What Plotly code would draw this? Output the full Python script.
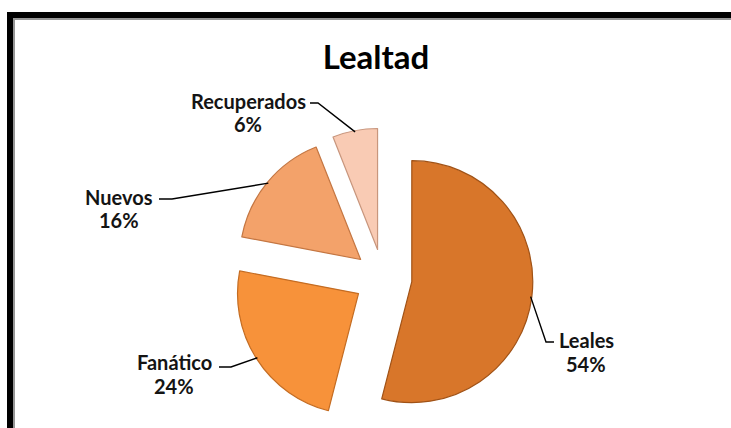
import math
import plotly.graph_objects as go

# data
labels = ["Leales", "Fanático", "Nuevos", "Recuperados"]
values = [54, 24, 16, 6]
colors = ["rgb(216,118,42)", "rgb(247,146,58)", "rgb(243,162,106)", "rgb(249,203,180)"]
edge_colors = ["rgb(160,82,22)", "rgb(196,108,34)", "rgb(196,118,66)", "rgb(200,150,125)"]

W, H = 731, 428
PULL = 0.24

# pie box in pixels (top edge, bottom edge = figure bottom)
box_top = 128
box_h = H - box_top
cx = 383
cy = box_top + box_h / 2
r = box_h / 2 / (1 + PULL)


def px(x):
    return x / W


def py(y):
    return 1 - y / H


fig = go.Figure()

fig.add_trace(go.Pie(
    labels=labels,
    values=values,
    sort=False,
    direction="clockwise",
    rotation=0,
    pull=[PULL] * len(values),
    marker=dict(colors=colors, line=dict(color=edge_colors, width=1.2)),
    textinfo="none",
    hoverinfo="label+percent",
    showlegend=False,
    domain=dict(x=[px(cx - box_h / 2), px(cx + box_h / 2)], y=[0, py(box_top)]),
))

# where each leader line touches its slice (outer arc, mid angle)
total = sum(values)
tips = []
acc = 0
for v in values:
    mid = (acc + v / 2) / total * 2 * math.pi
    acc += v
    dx, dy = math.sin(mid), -math.cos(mid)
    tips.append((cx + dx * (r * PULL + r * 0.99), cy + dy * (r * PULL + r * 0.99)))

# label text positions (name line, percent line) and leader line elbows (pixels)
label_pos = [(586, 340, 364), (174, 362, 386), (119, 197, 220), (248, 101, 124)]
elbows = [
    [(546, 342), (554, 342)],
    [(231, 367), (219, 367)],
    [(172, 199), (159, 199)],
    [(318, 103), (310, 103)],
]

shapes = []
for tip, pts in zip(tips, elbows):
    path = "M %f,%f" % (px(tip[0]), py(tip[1]))
    for x, y in pts:
        path += " L %f,%f" % (px(x), py(y))
    shapes.append(dict(type="path", xref="paper", yref="paper", path=path,
                       line=dict(color="black", width=1.4)))

# outer frame (only the top and left sides are in view)
shapes.append(dict(type="rect", xref="paper", yref="paper",
                   x0=px(10), x1=1.05, y0=-0.05, y1=py(15),
                   line=dict(color="black", width=6)))
shapes.append(dict(type="rect", xref="paper", yref="paper",
                   x0=px(14), x1=1.05, y0=-0.05, y1=py(19),
                   line=dict(color="rgb(150,150,150)", width=2)))

label_font = dict(family="Lato, sans-serif", size=20, color="rgb(20,20,20)")
annotations = []
for (x, y1, y2), lab, v in zip(label_pos, labels, values):
    annotations.append(dict(x=px(x), y=py(y1), xref="paper", yref="paper",
                            text="<b>%s</b>" % lab, showarrow=False,
                            xanchor="center", yanchor="middle", font=label_font))
    annotations.append(dict(x=px(x), y=py(y2), xref="paper", yref="paper",
                            text="<b>%d%%</b>" % round(v / total * 100), showarrow=False,
                            xanchor="center", yanchor="middle", font=label_font))

fig.update_layout(
    width=W, height=H,
    margin=dict(l=0, r=0, t=0, b=0),
    paper_bgcolor="white",
    plot_bgcolor="white",
    title=dict(text="<b>Lealtad</b>", x=px(376), y=py(57), xanchor="center", yanchor="middle",
               font=dict(family="Lato, sans-serif", size=33, color="black")),
    shapes=shapes,
    annotations=annotations,
)

# page body margin would push the figure out of the window
fig.write_html("out.html", config={"displayModeBar": False},
               post_script="document.body.style.margin='0';document.body.style.overflow='hidden';")
